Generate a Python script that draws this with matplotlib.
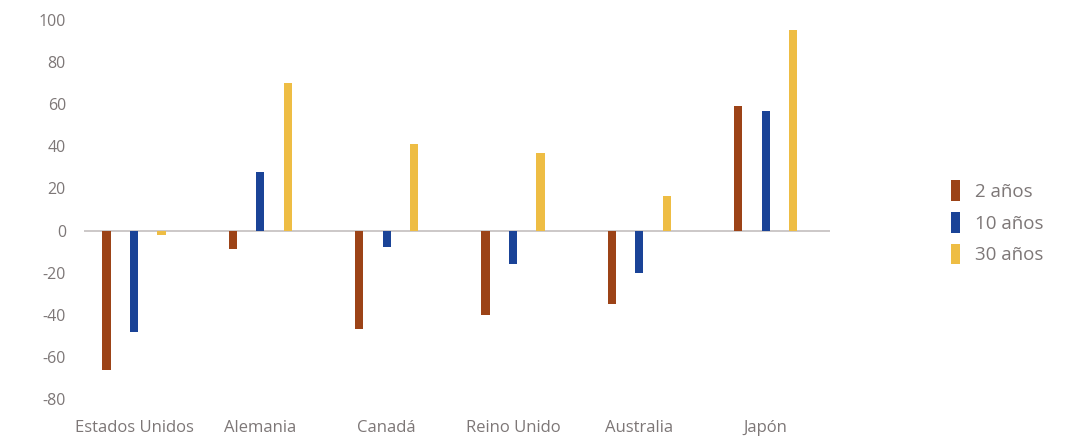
import numpy as np
import matplotlib.pyplot as plt
from matplotlib.patches import Patch

paises = ["Estados Unidos", "Alemania", "Canadá", "Reino Unido", "Australia", "Japón"]
plazo_2 = [-66, -9, -47, -40, -35, 59]
plazo_10 = [-48, 28, -8, -16, -20, 57]
plazo_30 = [-2, 70, 41, 37, 16.5, 95]
series = ["2 años", "10 años", "30 años"]
colores = ["#9C4317", "#1A4397", "#EEBD44"]
y_ticks = [100, 80, 60, 40, 20, 0, -20, -40, -60, -80]

plt.rcParams["font.family"] = ["Open Sans", "DejaVu Sans"]
gris = "#7d7777"

fig = plt.figure(figsize=(10.65, 4.36), dpi=100)
ax = fig.add_axes([0.0789, 0.0849, 0.7005, 0.8693])

x = np.arange(len(paises))
ancho = 0.065
paso = 0.218
for k, (vals, col) in enumerate(zip([plazo_2, plazo_10, plazo_30], colores)):
    ax.bar(x + (k - 1) * paso, vals, width=ancho, color=col, zorder=2)

ax.axhline(0, color="#c8c4c4", linewidth=1.3, zorder=1)
ax.set_ylim(-80, 100)
ax.set_xlim(-0.396, 5.51)
ax.set_yticks(y_ticks)
ax.set_yticklabels([str(v) for v in y_ticks])
ax.set_xticks(x)
ax.set_xticklabels(paises)
ax.tick_params(axis="y", length=0, pad=13, labelsize=11.5, labelcolor=gris)
ax.tick_params(axis="x", length=0, pad=15, labelsize=12, labelcolor=gris)
for s in ax.spines.values():
    s.set_visible(False)

handles = [Patch(facecolor=c, edgecolor="none") for c in colores]
leg = fig.legend(handles, series, loc="center left", bbox_to_anchor=(0.877, 0.49),
                 frameon=False, handlelength=0.5, handleheight=1.3,
                 handletextpad=0.8, labelspacing=0.6, fontsize=13.5)
for t in leg.get_texts():
    t.set_color(gris)

fig.savefig("out.png", dpi=100)
